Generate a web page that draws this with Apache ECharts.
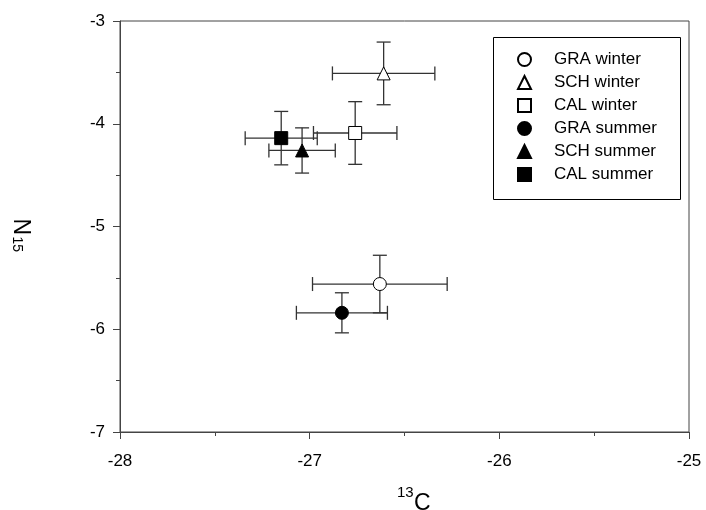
<!DOCTYPE html>
<html>
<head>
<meta charset="utf-8">
<script src="https://cdn.jsdelivr.net/npm/echarts@6/dist/echarts.min.js"></script>
<style>html,body{margin:0;padding:0;background:#fff}#c{width:706px;height:510px}</style>
</head>
<body>
<div id="c"></div>
<script>
var groups = ['GRA winter', 'SCH winter', 'CAL winter', 'GRA summer', 'SCH summer', 'CAL summer'];
var c13 = [-26.63, -26.61, -26.76, -26.83, -27.04, -27.15];
var n15 = [-5.56, -3.51, -4.09, -5.84, -4.26, -4.14];
var c13Err = [0.355, 0.27, 0.22, 0.24, 0.175, 0.19];
var n15Err = [0.28, 0.305, 0.305, 0.195, 0.22, 0.26];
var symbols = ['circle', 'triangle', 'rect', 'circle', 'triangle', 'rect'];
var fills = ['#ffffff', '#ffffff', '#ffffff', '#000000', '#000000', '#000000'];
var xTicks = [-28, -27, -26, -25];
var yTicks = [-7, -6, -5, -4, -3];

var FONT = 'Liberation Sans, Arial, sans-serif';
var AX = '#444';
var chart = echarts.init(document.getElementById('c'), null, {renderer: 'canvas'});

var series = [];
groups.forEach(function (g, i) {
  series.push({
    name: g + ' err',
    type: 'custom',
    z: 2,
    silent: true,
    data: [[c13[i], n15[i], c13Err[i], n15Err[i]]],
    renderItem: function (params, api) {
      var x = api.value(0), y = api.value(1), ex = api.value(2), ey = api.value(3);
      var c = api.coord([x, y]);
      var l = api.coord([x - ex, y]);
      var r = api.coord([x + ex, y]);
      var t = api.coord([x, y + ey]);
      var b = api.coord([x, y - ey]);
      var cap = 7;
      var st = {stroke: '#333', lineWidth: 1.3};
      return {
        type: 'group',
        children: [
          {type: 'line', shape: {x1: l[0], y1: c[1], x2: r[0], y2: c[1]}, style: st},
          {type: 'line', shape: {x1: l[0], y1: c[1] - cap, x2: l[0], y2: c[1] + cap}, style: st},
          {type: 'line', shape: {x1: r[0], y1: c[1] - cap, x2: r[0], y2: c[1] + cap}, style: st},
          {type: 'line', shape: {x1: c[0], y1: t[1], x2: c[0], y2: b[1]}, style: st},
          {type: 'line', shape: {x1: c[0] - cap, y1: t[1], x2: c[0] + cap, y2: t[1]}, style: st},
          {type: 'line', shape: {x1: c[0] - cap, y1: b[1], x2: c[0] + cap, y2: b[1]}, style: st}
        ]
      };
    }
  });
});
groups.forEach(function (g, i) {
  series.push({
    name: g,
    type: 'scatter',
    z: 5,
    symbol: symbols[i],
    symbolSize: 13,
    itemStyle: {color: fills[i], borderColor: '#000', borderWidth: 1, opacity: 1},
    data: [[c13[i], n15[i]]]
  });
});

chart.setOption({
  animation: false,
  backgroundColor: '#fff',
  grid: {left: 120, top: 21, width: 569, height: 411, show: true, borderColor: AX, borderWidth: 1, backgroundColor: 'transparent'},
  xAxis: {
    type: 'value', min: xTicks[0], max: xTicks[xTicks.length - 1], interval: 1,
    axisLine: {show: true, onZero: false, lineStyle: {color: AX, width: 1}},
    axisTick: {show: true, length: 7, lineStyle: {color: AX}},
    minorTick: {show: true, splitNumber: 2, length: 4, lineStyle: {color: AX}},
    splitLine: {show: false},
    axisLabel: {fontSize: 17, color: '#000', margin: 21, fontFamily: FONT}
  },
  yAxis: {
    type: 'value', min: yTicks[0], max: yTicks[yTicks.length - 1], interval: 1,
    axisLine: {show: true, onZero: false, lineStyle: {color: AX, width: 1}},
    axisTick: {show: true, length: 7, lineStyle: {color: AX}},
    minorTick: {show: true, splitNumber: 2, length: 4, lineStyle: {color: AX}},
    splitLine: {show: false},
    axisLabel: {fontSize: 17, color: '#000', margin: 15, fontFamily: FONT}
  },
  legend: {
    orient: 'vertical',
    left: 512, top: 46,
    itemWidth: 13, itemHeight: 13,
    itemGap: 6,
    data: groups,
    textStyle: {fontSize: 17, color: '#000', fontFamily: FONT, padding: [0, 0, 0, 18]}
  },
  graphic: [
    {type: 'rect', left: 491, top: 35, shape: {width: 187, height: 162}, style: {fill: 'none', stroke: '#000', lineWidth: 1}, z: 1},
    {type: 'text', x: 397, y: 485, style: {text: '13', fontSize: 15, fontFamily: FONT, fill: '#000'}},
    {type: 'text', x: 414, y: 492, style: {text: 'C', fontSize: 23, fontFamily: FONT, fill: '#000'}},
    {type: 'group', x: 8.7, y: 218.5, rotation: -Math.PI / 2, children: [
      {type: 'text', x: 0, y: 0, style: {text: 'N', fontSize: 23, fontFamily: FONT, fill: '#000', verticalAlign: 'bottom'}},
      {type: 'text', x: 18, y: -1, style: {text: '15', fontSize: 14, fontFamily: FONT, fill: '#000', verticalAlign: 'bottom'}}
    ]}
  ],
  series: series
});
</script>
</body>
</html>
